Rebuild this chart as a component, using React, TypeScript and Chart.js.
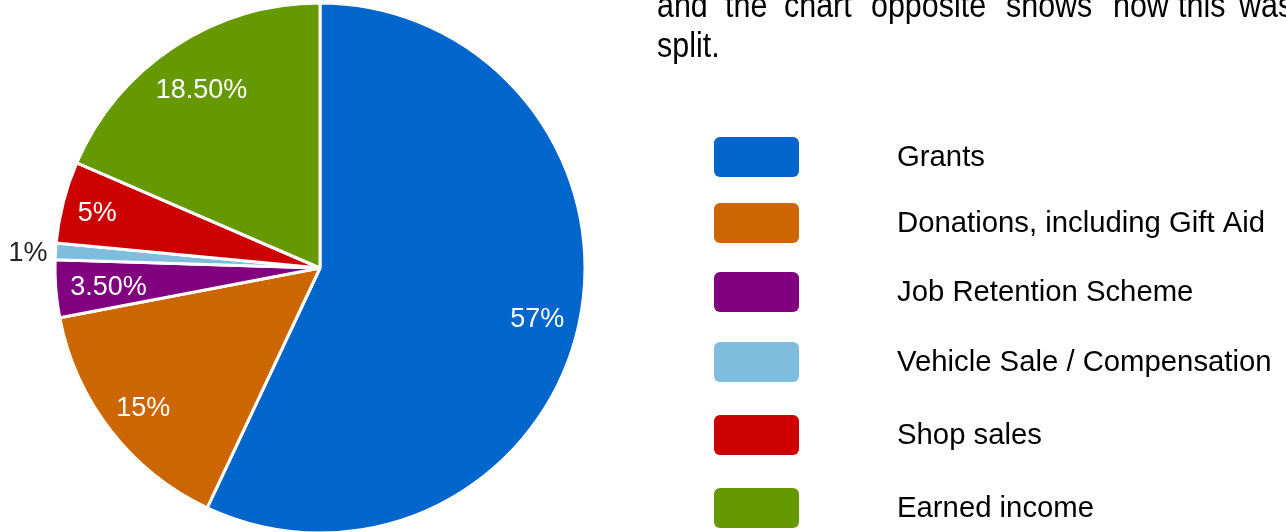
import React, { useEffect, useRef } from "react";
import { Chart, registerables } from "chart.js";

Chart.register(...registerables);

const categories = [
  "Grants",
  "Donations, including Gift Aid",
  "Job Retention Scheme",
  "Vehicle Sale / Compensation",
  "Shop sales",
  "Earned income",
];
const shares = [57, 15, 3.5, 1, 5, 18.5];
const colors = ["#0066CC", "#CC6600", "#800080", "#80BCDD", "#CC0000", "#669900"];

const paragraphLine1 = ["and", "the", "chart", "opposite", "shows", "how", "this", "was"];
const paragraphLine2 = ["split."];

const FONT = '"Liberation Sans", Arial, Helvetica, sans-serif';
const W = 1286;
const H = 532;

// layout constants (not data)
const line1X = [658, 726, 785, 872, 1007, 1114, 1179, 1240];
const legendTops = [137, 203, 272, 342, 415, 488];

const fmt = (v: number) => (Number.isInteger(v) ? `${v}%` : `${v.toFixed(2)}%`);

const decorPlugin = {
  id: "decor",
  afterDatasetsDraw(chart: any) {
    const ctx: CanvasRenderingContext2D = chart.ctx;
    const meta = chart.getDatasetMeta(0);
    const data = chart.data.datasets[0].data as number[];
    ctx.save();
    meta.data.forEach((arc: any, i: number) => {
      const { x, y, startAngle, endAngle, outerRadius } = arc.getProps(
        ["x", "y", "startAngle", "endAngle", "outerRadius"],
        true
      );
      const mid = (startAngle + endAngle) / 2;
      const ux = Math.cos(mid);
      const uy = Math.sin(mid);
      const v = data[i];
      const txt = fmt(v);
      const size = 27;
      ctx.font = `${size}px ${FONT}`;
      ctx.textBaseline = "middle";
      if (v >= 2) {
        // place text so that its outer corner sits just inside the rim
        const hw = ctx.measureText(txt).width / 2;
        const hh = size * 0.36;
        const R = outerRadius * 0.948;
        const b = Math.abs(ux) * hw + Math.abs(uy) * hh;
        const c = hw * hw + hh * hh - R * R;
        const d = -b + Math.sqrt(b * b - c);
        ctx.fillStyle = "#ffffff";
        ctx.textAlign = "center";
        ctx.fillText(txt, x + ux * d, y + uy * d + 3);
      } else {
        const r = outerRadius + 8;
        ctx.fillStyle = "#222222";
        ctx.textAlign = ux < 0 ? "right" : "left";
        ctx.fillText(txt, x + ux * r, y + uy * r + 3);
      }
    });
    ctx.restore();
  },
  afterDraw(chart: any) {
    const ctx: CanvasRenderingContext2D = chart.ctx;
    ctx.save();
    // legend
    const labels = chart.data.labels as string[];
    const bg = chart.data.datasets[0].backgroundColor as string[];
    labels.forEach((lab, i) => {
      const top = legendTops[i];
      ctx.fillStyle = bg[i];
      ctx.beginPath();
      (ctx as any).roundRect(714, top, 85, 40, 6);
      ctx.fill();
      ctx.fillStyle = "#000000";
      ctx.font = `29.3px ${FONT}`;
      ctx.textAlign = "left";
      ctx.textBaseline = "middle";
      ctx.fillText(lab, 897, top + 21);
    });
    // paragraph (slightly condensed face)
    ctx.font = `35px ${FONT}`;
    ctx.textBaseline = "alphabetic";
    ctx.textAlign = "left";
    ctx.fillStyle = "#000000";
    const drawWord = (w: string, px: number, py: number) => {
      ctx.save();
      ctx.translate(px, py);
      ctx.scale(0.87, 1);
      ctx.fillText(w, 0, 0);
      ctx.restore();
    };
    paragraphLine1.forEach((w, i) => drawWord(w, line1X[i] - 1, 17));
    paragraphLine2.forEach((w) => drawWord(w, 657, 57));
    ctx.restore();
  },
};

export default function App() {
  const ref = useRef<HTMLCanvasElement | null>(null);
  useEffect(() => {
    if (!ref.current) return;
    const chart = new Chart(ref.current, {
      type: "pie",
      data: {
        labels: categories,
        datasets: [
          {
            data: shares,
            backgroundColor: colors,
            borderColor: "#ffffff",
            borderWidth: 3,
          },
        ],
      },
      options: {
        responsive: false,
        animation: false,
        devicePixelRatio: 1,
        radius: 265,
        layout: { padding: { left: 0, right: W - 640, top: 4, bottom: 0 } },
        plugins: {
          legend: { display: false },
          tooltip: { enabled: false },
        },
      } as any,
      plugins: [decorPlugin],
    });
    return () => chart.destroy();
  }, []);
  return (
    <div style={{ position: "fixed", left: 0, top: 0, width: W, height: H, background: "#fff", overflow: "hidden" }}>
      <canvas ref={ref} width={W} height={H} style={{ display: "block", width: W, height: H }} />
    </div>
  );
}
